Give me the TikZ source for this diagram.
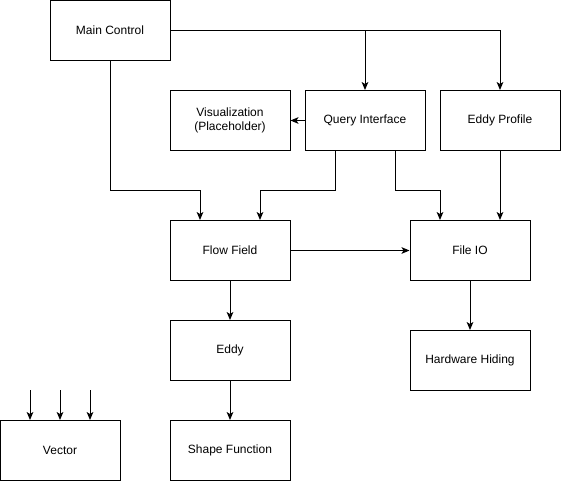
\documentclass[tikz,border=0pt]{standalone}
\usepackage{fontspec}
\setmainfont{Liberation Sans}
\usetikzlibrary{arrows.meta}

\tikzset{every picture/.style={line width=0.75pt}}
\tikzset{
  block/.style={draw, fill=white, minimum width=90pt, minimum height=45pt, inner sep=0.75pt, align=center, font=\fontsize{9}{11}\selectfont},
  link/.style={-{Stealth[length=6pt,width=5pt,inset=1.5pt]}}
}

\begin{document}
\begin{tikzpicture}[x=0.75pt,y=0.75pt,yscale=-1,xscale=1]
		\useasboundingbox (0,0) rectangle (561,481);

		% Blocks
		\node [block] (main) at (110,30.5) {Main Control};
		\node [block] (vis) at (230,120.5) {Visualization\\(Placeholder)};
		\node [block] (query) at (365,120.5) {Query Interface};
		\node [block] (eprof) at (500,120.5) {Eddy Profile};
		\node [block] (flow) at (230,250.5) {Flow Field};
		\node [block] (fileio) at (470,250.5) {File IO};
		\node [block] (eddy) at (230,350.5) {Eddy};
		\node [block] (hw) at (470,360.5) {Hardware Hiding};
		\node [block] (vector) at (60,450.5) {Vector};
		\node [block] (shape) at (230,450.5) {Shape Function};

		% Main Control outputs
		\draw [link] (main.east) -| (eprof.north);
		\draw [link] (query.north |- main.east) -- (query.north);
		\draw [link] (main.south) -- ++(0,130) -| ([xshift=-22.5pt]flow.north);

		% Query Interface outputs
		\draw [link] (query.west) -- (vis.east);
		\draw [link] ([xshift=-22.5pt]query.south) -- ++(0,40) -| ([xshift=22.5pt]flow.north);
		\draw [link] ([xshift=22.5pt]query.south) -- ++(0,40) -| ([xshift=-22.5pt]fileio.north);
		\draw [link] (eprof.south) -- ([xshift=22.5pt]fileio.north);

		% Lower chain
		\draw [link] (flow.east) -- (fileio.west);
		\draw [link] (flow.south) -- (eddy.north);
		\draw [link] (fileio.south) -- (hw.north);
		\draw [link] (eddy.south) -- (shape.north);

		% Inputs of Vector
		\foreach \dx/\name in {-22.5/vinA, 0/vinB, 22.5/vinC} {
			\coordinate (\name) at ([xshift=\dx pt, yshift=-22.5pt]vector.north);
			\draw [link] (\name) -- ([xshift=\dx pt]vector.north);
		}
	\end{tikzpicture}
\end{document}
